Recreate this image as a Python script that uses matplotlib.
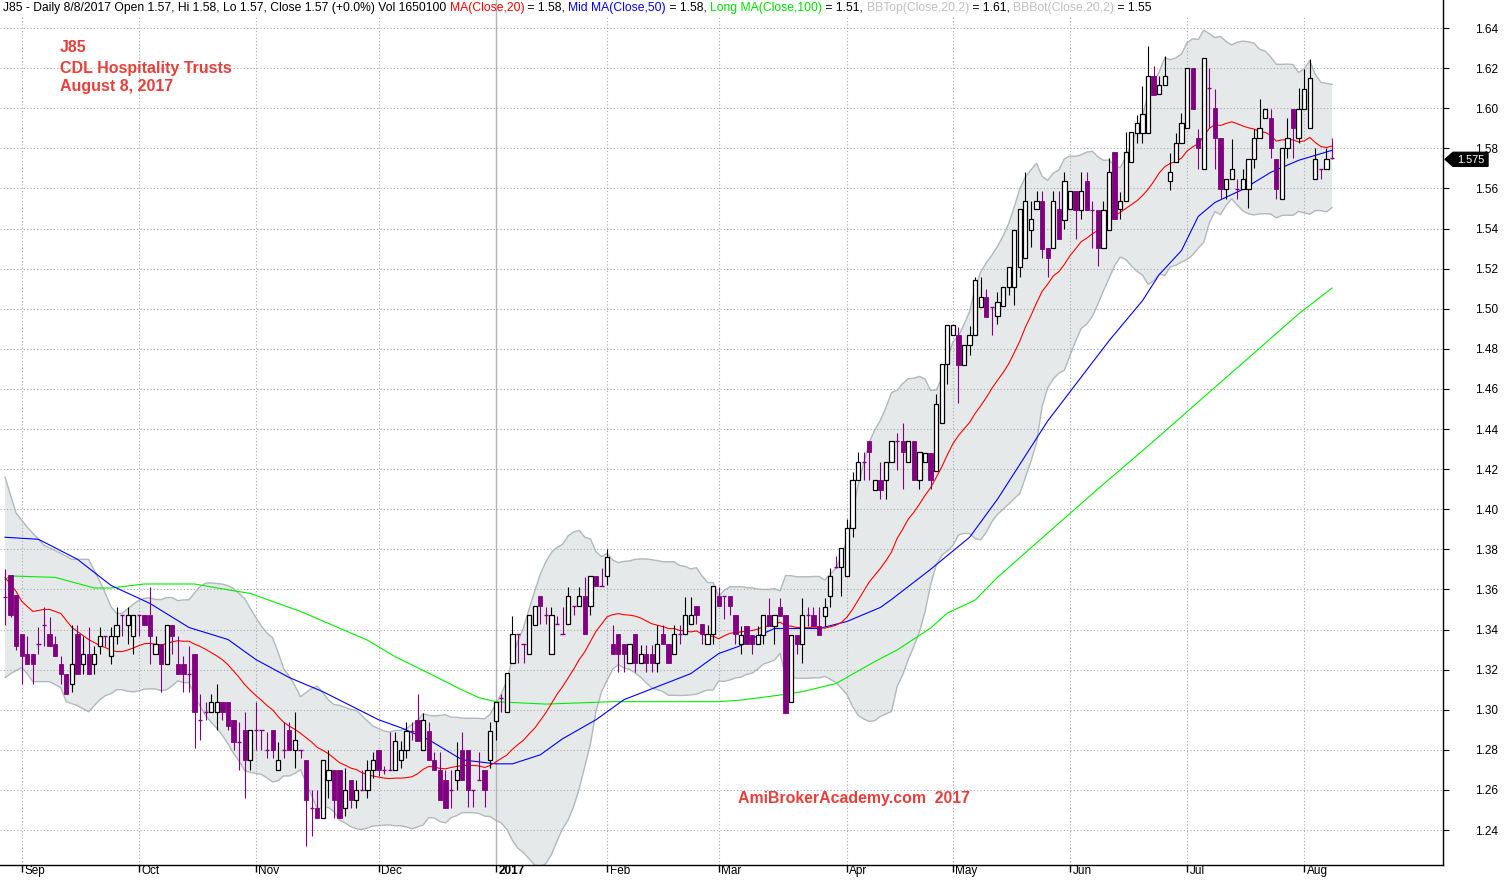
import numpy as np
import pandas as pd
import matplotlib
matplotlib.use("Agg")
import matplotlib.pyplot as plt
from matplotlib.patches import Polygon
from matplotlib.transforms import IdentityTransform, blended_transform_factory
from matplotlib.font_manager import FontProperties

plt.rcParams['font.family'] = ['Liberation Sans', 'DejaVu Sans']

# ---------------- data (daily bars, 29 Aug 2016 .. 8 Aug 2017) ----------------
opens = [1.356, 1.367, 1.357, 1.338, 1.328, 1.328, 1.333, 1.342, 1.338, 1.333,
         1.323, 1.318, 1.313, 1.338, 1.323, 1.328, 1.323, 1.332, 1.337, 1.327,
         1.337, 1.347, 1.342, 1.337, 1.347, 1.347, 1.347, 1.328, 1.333, 1.323,
         1.342, 1.323, 1.323, 1.318, 1.328, 1.295, 1.299, 1.299, 1.299, 1.304,
         1.304, 1.295, 1.284, 1.290, 1.275, 1.290, 1.290, 1.280, 1.290, 1.270,
         1.280, 1.290, 1.280, 1.280, 1.275, 1.251, 1.251, 1.246, 1.265, 1.270,
         1.270, 1.251, 1.265, 1.255, 1.260, 1.260, 1.270, 1.280, 1.270, 1.270,
         1.270, 1.275, 1.280, 1.2895, 1.295, 1.280, 1.2895, 1.275, 1.270, 1.265,
         1.260, 1.265, 1.280, 1.280, 1.260, 1.265, 1.270, 1.275, 1.2944, 1.306,
         1.299, 1.3234, 1.3377, 1.3327, 1.3277, 1.3422, 1.3568, 1.3471, 1.3277, 1.3425,
         1.3377, 1.3425, 1.3518, 1.3518, 1.3568, 1.3518, 1.3667, 1.3617, 1.3667, 1.3327,
         1.3377, 1.3327, 1.3234, 1.3377, 1.3234, 1.3277, 1.3277, 1.3234, 1.3377, 1.3327,
         1.3277, 1.3377, 1.3377, 1.3425, 1.3518, 1.3425, 1.3327, 1.3377, 1.3568, 1.3568,
         1.3568, 1.3471, 1.3326, 1.3417, 1.3371, 1.3326, 1.3371, 1.3471, 1.3417, 1.3514,
         1.3471, 1.3036, 1.3371, 1.3326, 1.3471, 1.3471, 1.3417, 1.3467, 1.3566, 1.3712,
         1.371, 1.3666, 1.3905, 1.4145, 1.4237, 1.4338, 1.4097, 1.4145, 1.4145, 1.4237,
         1.4338, 1.4338, 1.4237, 1.4338, 1.4145, 1.4237, 1.4282, 1.4192, 1.4432, 1.4723,
         1.4867, 1.4867, 1.4718, 1.4817, 1.4867, 1.501, 1.506, 1.501, 1.4963, 1.5012,
         1.5107, 1.5107, 1.5207, 1.5251, 1.5394, 1.5497, 1.5539, 1.5301, 1.5301, 1.5497,
         1.5444, 1.5497, 1.5588, 1.5494, 1.5638, 1.5494, 1.5494, 1.5301, 1.5395, 1.5782,
         1.5495, 1.5536, 1.573, 1.5876, 1.5876, 1.5876, 1.6163, 1.6071, 1.6114, 1.5639,
         1.573, 1.5827, 1.5901, 1.62, 1.5851, 1.5697, 1.61, 1.6001, 1.5851, 1.5598,
         1.5647, 1.5598, 1.5598, 1.5598, 1.5747, 1.5851, 1.5951, 1.5951, 1.5747, 1.5548,
         1.5802, 1.5998, 1.5851, 1.5998, 1.5901, 1.5647, 1.5697, 1.5697, 1.575]
highs = [1.370, 1.367, 1.357, 1.338, 1.337, 1.328, 1.341, 1.351, 1.346, 1.337,
         1.327, 1.318, 1.342, 1.342, 1.337, 1.341, 1.332, 1.341, 1.337, 1.341,
         1.351, 1.347, 1.351, 1.347, 1.347, 1.347, 1.361, 1.337, 1.333, 1.342,
         1.342, 1.337, 1.327, 1.332, 1.328, 1.308, 1.304, 1.308, 1.313, 1.304,
         1.304, 1.295, 1.294, 1.299, 1.290, 1.304, 1.290, 1.289, 1.290, 1.284,
         1.294, 1.294, 1.299, 1.280, 1.275, 1.260, 1.260, 1.275, 1.280, 1.270,
         1.270, 1.271, 1.265, 1.265, 1.270, 1.275, 1.279, 1.280, 1.272, 1.289,
         1.289, 1.2845, 1.294, 1.294, 1.308, 1.2986, 1.294, 1.279, 1.279, 1.270,
         1.270, 1.284, 1.289, 1.280, 1.260, 1.279, 1.270, 1.294, 1.304, 1.308,
         1.3183, 1.3468, 1.3377, 1.3327, 1.3471, 1.3518, 1.3568, 1.3513, 1.3513, 1.3468,
         1.3513, 1.3612, 1.3518, 1.3612, 1.3662, 1.3667, 1.3667, 1.3709, 1.3803, 1.3422,
         1.3377, 1.3327, 1.3327, 1.3377, 1.3322, 1.3322, 1.3322, 1.3422, 1.3422, 1.3327,
         1.3422, 1.3422, 1.3563, 1.3563, 1.3518, 1.3425, 1.3422, 1.3617, 1.3612, 1.3568,
         1.3568, 1.3471, 1.3417, 1.3417, 1.3371, 1.3417, 1.3471, 1.3558, 1.3471, 1.3558,
         1.3471, 1.3371, 1.3371, 1.3558, 1.3514, 1.3514, 1.3514, 1.3558, 1.3708, 1.3768,
         1.3805, 1.3951, 1.4187, 1.4286, 1.4286, 1.4338, 1.4145, 1.4237, 1.4237, 1.4338,
         1.4379, 1.4429, 1.4338, 1.4338, 1.4286, 1.4282, 1.4282, 1.4573, 1.4723, 1.4917,
         1.4917, 1.491, 1.4817, 1.4914, 1.516, 1.516, 1.510, 1.501, 1.5085, 1.5107,
         1.5207, 1.5394, 1.5497, 1.568, 1.5539, 1.5588, 1.5588, 1.5301, 1.5588, 1.5588,
         1.568, 1.5588, 1.5588, 1.568, 1.568, 1.5539, 1.5494, 1.5539, 1.575, 1.5782,
         1.5583, 1.588, 1.588, 1.5968, 1.6112, 1.6308, 1.6212, 1.6163, 1.6258, 1.5777,
         1.5876, 1.5976, 1.62, 1.62, 1.5896, 1.625, 1.62, 1.6095, 1.5851, 1.5647,
         1.5846, 1.5647, 1.5697, 1.5747, 1.5896, 1.6046, 1.5998, 1.5998, 1.5747, 1.5802,
         1.5951, 1.5998, 1.61, 1.6195, 1.6245, 1.5802, 1.5697, 1.5802, 1.5851]
lows = [1.342, 1.346, 1.330, 1.313, 1.323, 1.313, 1.328, 1.332, 1.332, 1.327,
        1.313, 1.308, 1.309, 1.318, 1.318, 1.318, 1.318, 1.328, 1.332, 1.323,
        1.333, 1.337, 1.333, 1.328, 1.337, 1.342, 1.323, 1.328, 1.309, 1.323,
        1.328, 1.318, 1.309, 1.309, 1.281, 1.285, 1.295, 1.299, 1.290, 1.295,
        1.290, 1.280, 1.270, 1.256, 1.270, 1.280, 1.280, 1.276, 1.276, 1.270,
        1.276, 1.280, 1.271, 1.276, 1.232, 1.237, 1.246, 1.246, 1.256, 1.246,
        1.246, 1.247, 1.251, 1.251, 1.260, 1.256, 1.266, 1.267, 1.268, 1.270,
        1.270, 1.271, 1.276, 1.285, 1.2845, 1.280, 1.275, 1.270, 1.255, 1.251,
        1.251, 1.260, 1.265, 1.2516, 1.2516, 1.265, 1.2516, 1.2707, 1.2848, 1.299,
        1.299, 1.3234, 1.3234, 1.3234, 1.3277, 1.3422, 1.3425, 1.3425, 1.3277, 1.3425,
        1.3377, 1.3425, 1.3471, 1.3518, 1.3377, 1.3471, 1.3617, 1.3617, 1.362, 1.3277,
        1.3189, 1.3189, 1.3234, 1.3189, 1.3234, 1.3189, 1.3189, 1.3189, 1.3327, 1.3234,
        1.3277, 1.3327, 1.3377, 1.3425, 1.3425, 1.333, 1.3327, 1.3327, 1.3518, 1.345,
        1.3471, 1.333, 1.328, 1.3326, 1.328, 1.3326, 1.3326, 1.3417, 1.3326, 1.3467,
        1.2983, 1.3036, 1.328, 1.3235, 1.3417, 1.3417, 1.3371, 1.3417, 1.3514, 1.3708,
        1.3569, 1.3666, 1.386, 1.4145, 1.4145, 1.4145, 1.4097, 1.4051, 1.4051, 1.4237,
        1.4197, 1.41, 1.4237, 1.4145, 1.41, 1.4237, 1.41, 1.4192, 1.4432, 1.4623,
        1.4867, 1.4529, 1.4718, 1.4768, 1.4867, 1.501, 1.496, 1.487, 1.4925, 1.5012,
        1.5066, 1.5016, 1.5157, 1.5251, 1.5306, 1.5497, 1.5251, 1.5157, 1.5301, 1.5348,
        1.5397, 1.5497, 1.5348, 1.5447, 1.5494, 1.5301, 1.5212, 1.5301, 1.5395, 1.5445,
        1.5445, 1.5536, 1.573, 1.5827, 1.5827, 1.5876, 1.6067, 1.6071, 1.6114, 1.5591,
        1.573, 1.5827, 1.5901, 1.5998, 1.5697, 1.5697, 1.59, 1.5697, 1.5548, 1.5548,
        1.5647, 1.5548, 1.5598, 1.5503, 1.5702, 1.5851, 1.5951, 1.5752, 1.5548, 1.5548,
        1.5752, 1.5752, 1.5827, 1.5998, 1.5901, 1.5647, 1.5647, 1.5697, 1.5747]
closes = [1.356, 1.347, 1.332, 1.327, 1.323, 1.323, 1.333, 1.342, 1.332, 1.327,
          1.318, 1.308, 1.323, 1.318, 1.328, 1.318, 1.328, 1.337, 1.337, 1.337,
          1.342, 1.347, 1.347, 1.347, 1.347, 1.342, 1.337, 1.333, 1.323, 1.342,
          1.337, 1.318, 1.318, 1.318, 1.299, 1.295, 1.299, 1.304, 1.304, 1.299,
          1.292, 1.284, 1.284, 1.275, 1.290, 1.290, 1.290, 1.280, 1.280, 1.275,
          1.280, 1.280, 1.285, 1.280, 1.255, 1.251, 1.246, 1.275, 1.270, 1.255,
          1.246, 1.260, 1.255, 1.260, 1.260, 1.270, 1.275, 1.270, 1.270, 1.270,
          1.2845, 1.280, 1.2895, 1.2895, 1.2845, 1.295, 1.275, 1.270, 1.255, 1.251,
          1.260, 1.270, 1.265, 1.260, 1.260, 1.265, 1.260, 1.2895, 1.304, 1.306,
          1.3183, 1.3377, 1.3377, 1.3327, 1.3471, 1.3518, 1.3518, 1.3471, 1.3471, 1.3425,
          1.3377, 1.3568, 1.3518, 1.3568, 1.3377, 1.3667, 1.3617, 1.3617, 1.3762, 1.3277,
          1.3277, 1.3277, 1.3327, 1.3234, 1.3277, 1.3234, 1.3234, 1.3327, 1.3327, 1.3234,
          1.3377, 1.3377, 1.3471, 1.3471, 1.3471, 1.3377, 1.3377, 1.3617, 1.3518, 1.3568,
          1.3518, 1.3377, 1.3371, 1.3326, 1.3326, 1.3371, 1.3471, 1.3417, 1.3471, 1.3467,
          1.2983, 1.3371, 1.3326, 1.3471, 1.3471, 1.3417, 1.3371, 1.3514, 1.3666, 1.3712,
          1.3805, 1.3905, 1.4145, 1.4237, 1.4237, 1.4286, 1.4145, 1.4097, 1.4237, 1.4338,
          1.4338, 1.4286, 1.4338, 1.4145, 1.4286, 1.4282, 1.4145, 1.4527, 1.4723, 1.4917,
          1.4917, 1.4718, 1.4817, 1.4867, 1.5145, 1.506, 1.496, 1.501, 1.5035, 1.5107,
          1.5207, 1.5394, 1.5497, 1.5539, 1.5447, 1.5539, 1.5298, 1.5251, 1.5539, 1.5348,
          1.5638, 1.5588, 1.5494, 1.5588, 1.5494, 1.5494, 1.5301, 1.5494, 1.568, 1.5445,
          1.5536, 1.5782, 1.588, 1.5926, 1.5971, 1.6163, 1.6067, 1.6114, 1.6163, 1.568,
          1.5827, 1.5926, 1.62, 1.5998, 1.5802, 1.625, 1.61, 1.5851, 1.5598, 1.5647,
          1.5697, 1.5598, 1.5647, 1.5747, 1.5851, 1.5901, 1.5998, 1.5802, 1.5598, 1.5802,
          1.5851, 1.5901, 1.5998, 1.6097, 1.615, 1.5747, 1.5697, 1.5747, 1.575]

# month ticks (bar index of first trading day of each month)
month_idx = [3, 24, 45, 67, 88, 108, 128, 151, 170, 191, 212, 233]
month_labels = ['Sep', 'Oct', 'Nov', 'Dec', '2017', 'Feb', 'Mar', 'Apr', 'May', 'Jun', 'Jul', 'Aug']
price_ticks = [1.24, 1.26, 1.28, 1.30, 1.32, 1.34, 1.36, 1.38, 1.40, 1.42, 1.44,
               1.46, 1.48, 1.50, 1.52, 1.54, 1.56, 1.58, 1.60, 1.62, 1.64]
last_price = 1.575

# indicator values read from the chart where the visible bars do not cover the window
ma20_early_idx = [0, 2, 3, 5, 7, 8, 10, 12, 14, 15, 17, 18]
ma20_early = [1.366, 1.359, 1.354, 1.349, 1.350, 1.350, 1.348, 1.341, 1.337, 1.335, 1.332, 1.331]
bbtop_early_idx = [0, 2, 4, 7, 10, 12, 15, 17, 18]
bbtop_early = [1.416, 1.398, 1.391, 1.382, 1.378, 1.375, 1.375, 1.364, 1.358]
bbbot_early_idx = [0, 1, 3, 4, 5, 8, 10, 11, 13, 15, 17, 18]
bbbot_early = [1.316, 1.318, 1.321, 1.318, 1.314, 1.314, 1.311, 1.304, 1.302, 1.299, 1.305, 1.307]

ma50_idx = [0, 6, 13, 19, 26, 33, 40, 45, 51, 57, 62, 67, 71, 76, 82, 88, 91, 96, 100,
            106, 111, 117, 123, 128, 132, 134, 138, 146, 151, 157, 159, 166, 173, 178,
            187, 198, 204, 207, 211, 214, 217, 222, 227, 232, 238]
ma50_vals = [1.386, 1.385, 1.375, 1.362, 1.353, 1.341, 1.335, 1.325, 1.316, 1.309, 1.302,
             1.295, 1.291, 1.285, 1.275, 1.273, 1.273, 1.2775, 1.2855, 1.295, 1.305, 1.3115,
             1.318, 1.328, 1.332, 1.3355, 1.3405, 1.3405, 1.344, 1.351, 1.355, 1.370, 1.386,
             1.405, 1.444, 1.484, 1.504, 1.517, 1.529, 1.546, 1.553, 1.5595, 1.568, 1.574, 1.579]
ma100_idx = [0, 1, 9, 16, 19, 25, 34, 41, 44, 53, 65, 70, 76, 82, 85, 88, 97, 109, 115,
             128, 132, 139, 143, 149, 156, 160, 166, 169, 174, 178, 187, 196, 205, 214,
             223, 232, 238]
ma100_vals = [1.365, 1.3667, 1.366, 1.3607, 1.3607, 1.3627, 1.3627, 1.3593, 1.358, 1.349,
              1.3347, 1.3264, 1.3182, 1.3098, 1.306, 1.304, 1.3028, 1.304, 1.304, 1.304,
              1.3048, 1.3073, 1.309, 1.313, 1.324, 1.3298, 1.3407, 1.3482, 1.3547, 1.366,
              1.3881, 1.4101, 1.4315, 1.4535, 1.4754, 1.4974, 1.5103]

# ---------------- figure ----------------
W, H = 1504, 880
fig = plt.figure(figsize=(W / 100, H / 100), dpi=100)
ax = fig.add_axes([0, 15 / H, 1443 / W, 865 / H])

PURPLE = '#800080'
n = len(closes)
idx = np.arange(n)
o = np.array(opens); h = np.array(highs); l = np.array(lows); c = np.array(closes)

# Bollinger / MA20 from closes, early part
cs = pd.Series(c)
ma20_calc = cs.rolling(20).mean().values
sd20 = cs.rolling(20).std(ddof=0).values
later = np.arange(19, n)
ma20_x = np.concatenate([ma20_early_idx, later])
ma20_y = np.concatenate([ma20_early, ma20_calc[19:]])
top_x = np.concatenate([bbtop_early_idx, later])
top_y = np.concatenate([bbtop_early, ma20_calc[19:] + 2 * sd20[19:]])
bot_x = np.concatenate([bbbot_early_idx, later])
bot_y = np.concatenate([bbbot_early, ma20_calc[19:] - 2 * sd20[19:]])

ax.fill(np.concatenate([top_x, bot_x[::-1]]), np.concatenate([top_y, bot_y[::-1]]),
        facecolor='#e6e9ea', edgecolor='none', zorder=1)
ax.plot(top_x, top_y, color='#b0b9bb', lw=1.0, zorder=1.2)
ax.plot(bot_x, bot_y, color='#b0b9bb', lw=1.0, zorder=1.2)

# grid
for p in price_ticks:
    ax.axhline(p, color='#a8a8a8', lw=0.8, ls=(0, (1, 2)), zorder=1.5)
for mi, lab in zip(month_idx, month_labels):
    if lab == '2017':
        ax.axvline(mi, color='#b4b4b4', lw=1.0, zorder=1.5)
    else:
        ax.axvline(mi, ymax=0.98, color='#a8a8a8', lw=0.8, ls=(0, (1, 2)), zorder=1.5)

# moving averages
ax.plot(ma100_idx, ma100_vals, color='#00ee00', lw=0.8, zorder=3)
ax.plot(ma50_idx, ma50_vals, color='#0000ff', lw=0.8, zorder=3)
ax.plot(ma20_x, ma20_y, color='#ff0000', lw=0.8, zorder=3)

# candles
up = c > o
dn = ~up
ax.vlines(idx[up], l[up], h[up], color='black', lw=0.8, zorder=4)
ax.vlines(idx[dn], l[dn], h[dn], color=PURPLE, lw=0.8, zorder=4)
bw = 0.76
ax.bar(idx[up], (c - o)[up], bottom=o[up], width=bw, facecolor='white',
       edgecolor='black', lw=0.9, zorder=5)
down = c < o
ax.bar(idx[down], (o - c)[down], bottom=c[down], width=bw, facecolor=PURPLE,
       edgecolor=PURPLE, lw=0.6, zorder=5)
doji = c == o
ax.hlines(c[doji], idx[doji] - bw / 2, idx[doji] + bw / 2, color=PURPLE, lw=1.0, zorder=5)

# axes limits / ticks
ax.set_xlim(-0.897, 257.9)
ax.set_ylim(1.24 - 35 / 2005, 1.24 + 830 / 2005)
ax.yaxis.tick_right()
ax.set_yticks(price_ticks)
ax.set_yticklabels([f'{p:.2f}' for p in price_ticks], fontsize=8.5)
ax.tick_params(axis='y', length=4, width=0.8, pad=19.0, colors='black')
ax.set_xticks(month_idx)
ax.set_xticklabels([''] * len(month_idx))
ax.tick_params(axis='x', length=5, width=1.0, direction='out')
for s in ['left', 'top']:
    ax.spines[s].set_visible(False)
for s in ['right', 'bottom']:
    ax.spines[s].set_linewidth(1.0)
    ax.spines[s].set_color('black')

trans = blended_transform_factory(ax.transData, ax.transAxes)
for mi, lab in zip(month_idx, month_labels):
    ax.text(mi + 0.45, -0.0075, lab, transform=trans, ha='left', va='center',
            fontsize=8.5, fontweight='bold' if lab == '2017' else 'normal', clip_on=False)

# titles
RED_T = '#e5403b'
fig.text(60 / W, 1 - 48 / H, 'J85', color=RED_T, fontsize=11.5, fontweight='bold', va='center')
fig.text(60 / W, 1 - 68 / H, 'CDL Hospitality Trusts', color=RED_T, fontsize=11.5,
         fontweight='bold', va='center')
fig.text(60 / W, 1 - 87 / H, 'August 8, 2017', color=RED_T, fontsize=11.5,
         fontweight='bold', va='center')
fig.text(738 / W, 1 - 798 / H, 'AmiBrokerAcademy.com  2017', color=RED_T, fontsize=11.45,
         fontweight='bold', va='center')

# header line with coloured parts
pieces = [('J85 - Daily 8/8/2017 Open 1.57, Hi 1.58, Lo 1.57, Close 1.57 (+0.0%) Vol 1650100 ', 'black'),
          ('MA(Close,20)', '#ff0000'), (' = 1.58, ', 'black'),
          ('Mid MA(Close,50)', '#0000ff'), (' = 1.58, ', 'black'),
          ('Long MA(Close,100)', '#00e000'), (' = 1.51, ', 'black'),
          ('BBTop(Close,20,2)', '#c0c0c0'), (' = 1.61, ', 'black'),
          ('BBBot(Close,20,2)', '#c0c0c0'), (' = 1.55', 'black')]
fig.canvas.draw()
renderer = fig.canvas.get_renderer()
fp = FontProperties(family=['Liberation Sans', 'DejaVu Sans'], size=8.75)
ref_w = renderer.get_text_width_height_descent('l', fp, ismath=False)[0]
prefix = ''
x0 = 3.0
for s, col in pieces:
    if prefix:
        wpx = renderer.get_text_width_height_descent(prefix + 'l', fp, ismath=False)[0] - ref_w
    else:
        wpx = 0.0
    fig.text((x0 + wpx) / W, 1 - 8 / H, s, color=col, fontproperties=fp, va='center', ha='left')
    prefix += s

# last price marker on the right axis
py = ax.transData.transform((0, last_price))[1] - 1.0
verts = [(1445, py), (1453, py + 7), (1488, py + 7), (1488, py - 7), (1453, py - 7)]
fig.add_artist(Polygon(verts, closed=True, facecolor='black', edgecolor='black',
                       transform=IdentityTransform(), zorder=10))
fig.text(1470.5 / W, (py - 0.5) / H, f'{last_price:.3f}', color='white', fontsize=7.8,
         ha='center', va='center', zorder=11)

fig.savefig('out.png', dpi=100, facecolor='white')
